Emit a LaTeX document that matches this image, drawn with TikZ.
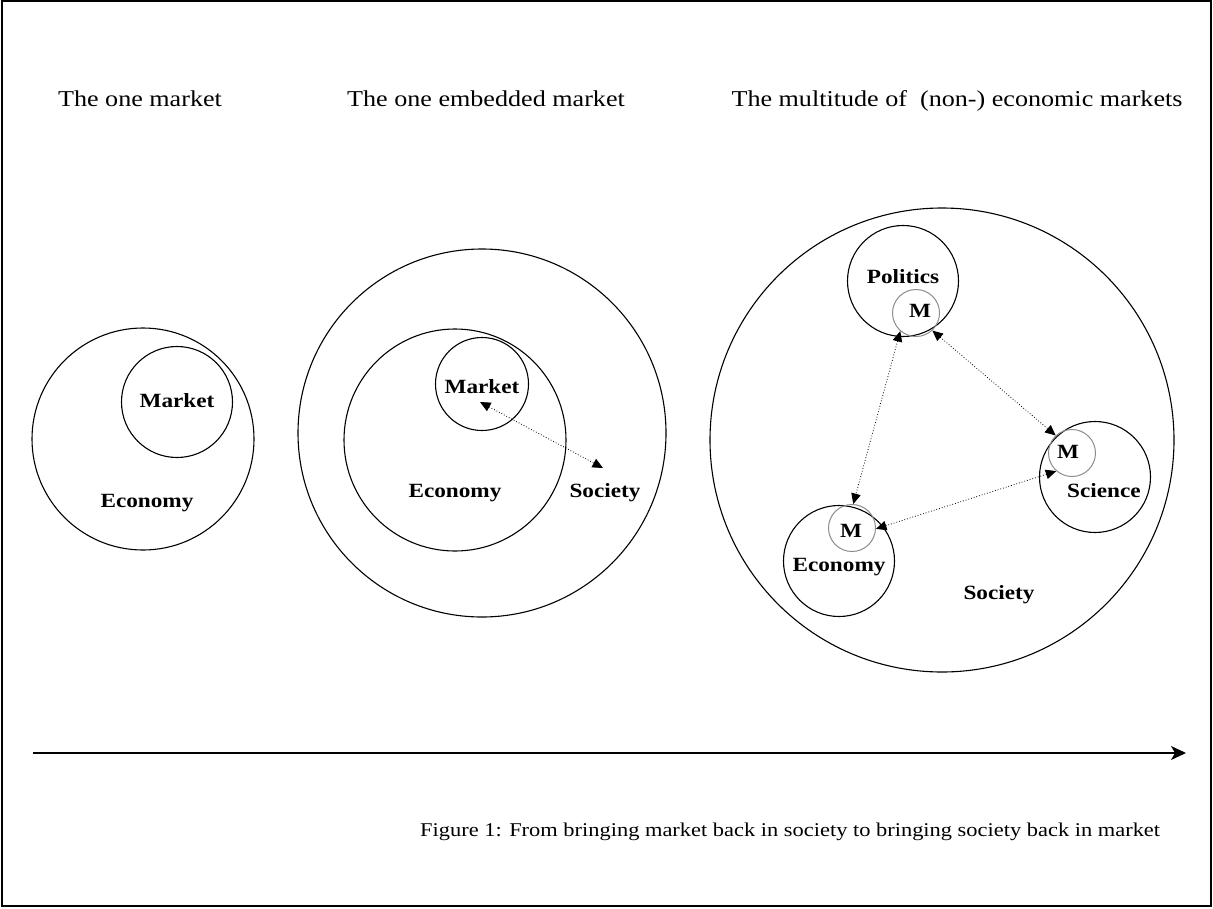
\documentclass[tikz,border=0pt]{standalone}
\usepackage{fontspec}
\setmainfont{Liberation Serif}[FakeStretch=1.15]
\usetikzlibrary{arrows.meta}
\begin{document}
\begin{tikzpicture}[x=1pt,y=-1pt,
  ring/.style={circle,draw,line width=1.1pt,inner sep=0pt,minimum size=#1},
  mring/.style={circle,draw=black!45,line width=1pt,inner sep=0pt,minimum size=47pt},
  lbl/.style={font=\fontsize{20.2}{23}\selectfont\bfseries,inner sep=0pt,anchor=base},
  ttl/.style={font=\fontsize{22.7}{26}\selectfont,inner sep=0pt,anchor=base},
  captext/.style={font=\fontsize{19.5}{22}\selectfont,inner sep=0pt,anchor=base west},
  link/.style={dotted,line width=0.8pt,{Triangle[length=10.5pt,width=9.5pt]}-{Triangle[length=10.5pt,width=9.5pt]}}]
\useasboundingbox (0,0) rectangle (1213,908);
\draw[line width=1.6pt] (2,1) rectangle (1211,906);
% titles
\node[ttl] (t1) at (140,106) {The one market};
\node[ttl] (t2) at (486,106) {The one embedded market};
\node[ttl] (t3) at (957,106) {The multitude of\ \ (non-) economic markets};
% panel 1
\node[ring=222pt] (eco1) at (143,439) {};
\node[ring=111pt] (mkt1) at (177,402) {};
\node[lbl] (mkt1l) at (177,407) {Market};
\node[lbl] (eco1l) at (147,507) {Economy};
% panel 2
\node[ring=368pt] (soc2) at (482,433) {};
\node[ring=222pt] (eco2) at (455,440) {};
\node[ring=93pt] (mkt2) at (482,384) {};
\node[lbl] (mkt2l) at (482,393) {Market};
\node[lbl] (eco2l) at (455,497) {Economy};
\node[lbl] (soc2l) at (605,497) {Society};
\coordinate (a2s) at (480,402);
\coordinate (a2e) at (603,468);
\draw[link] (a2s) -- (a2e);
% panel 3
\node[ring=464pt] (soc3) at (942,440) {};
\node[ring=111pt] (pol) at (903,281) {};
\node[ring=111pt] (sci) at (1095,477) {};
\node[ring=111pt] (eco3) at (839,561) {};
\node[mring] (pm) at (916,313) {};
\node[mring] (sm) at (1072,453) {};
\node[mring] (em) at (852,528) {};
\node[lbl] (poll) at (903,283) {Politics};
\node[lbl] (pml) at (920,317) {M};
\node[lbl] (sml) at (1068,458) {M};
\node[lbl] (eml) at (851,537) {M};
\node[lbl] (scil) at (1104,497) {Science};
\node[lbl] (eco3l) at (839,571) {Economy};
\node[lbl] (soc3l) at (999,599) {Society};
\draw[link] (pm.-131) -- (em.87);
\draw[link] (pm.-47) -- (sm.133);
\draw[link] (sm.-131) -- (em.-2);
% time arrow
\coordinate (tl0) at (33,753);
\coordinate (tl1) at (1186,753);
\draw[line width=1.3pt,-{Stealth[length=15pt,width=14pt,inset=4pt]}] (tl0) -- (tl1);
% caption
\node[captext] (capt) at (420,836) {Figure 1: From bringing market back in society to bringing society back in market};
\end{tikzpicture}
\end{document}
